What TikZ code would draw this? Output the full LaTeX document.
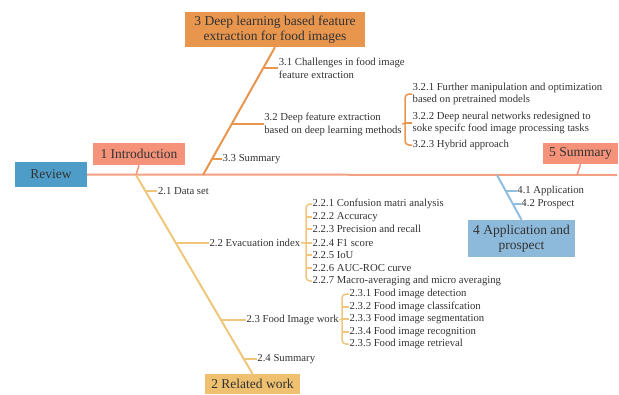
\documentclass[tikz,border=0pt]{standalone}
\usepackage{fontspec}
\setmainfont{Liberation Serif}
\usepackage{xcolor}
\usepackage{tikz}
\usetikzlibrary{calc}

\definecolor{spine}{HTML}{F4A082}
\definecolor{salmon}{HTML}{F4927A}
\definecolor{review}{HTML}{4E9DC8}
\definecolor{deep}{HTML}{E8954E}
\definecolor{related}{HTML}{EEC070}
\definecolor{relline}{HTML}{F0C67C}
\definecolor{app}{HTML}{8DB9DB}
\definecolor{appline}{HTML}{8FBEE0}
\definecolor{txt}{HTML}{333333}

\begin{document}
\begin{tikzpicture}[x=1pt,y=-1pt,
    big/.style={text=txt,font=\fontsize{13.5}{15}\selectfont,align=center,inner sep=0pt},
    sub/.style={text=txt,font=\fontsize{10.7}{12.5}\selectfont,align=left,anchor=west,inner sep=0.5pt},
    tick/.style={line width=1.5pt}]
    \useasboundingbox (0,0) rectangle (619,394);

    % Boites principales
    \node[big,fill=review,minimum width=72,minimum height=25] (rev) at (51,174.5) {Review};
    \node[big,fill=salmon,minimum width=92,minimum height=22] (intro) at (139,154) {1 Introduction};
    \node[big,fill=deep,minimum width=180,minimum height=35] (deepl) at (275,29.5) {3 Deep learning based feature\\extraction for food images};
    \node[big,fill=related,minimum width=95,minimum height=20] (relw) at (252.5,384) {2 Related work};
    \node[big,fill=salmon,minimum width=75,minimum height=21] (summ) at (580.5,153.5) {5 Summary};
    \node[big,fill=app,minimum width=107,minimum height=37] (appl) at (521.5,238.5) {4 Application and\\prospect};

    % Axe central
    \coordinate (s1) at (136,175);
    \coordinate (s2) at (136,175);
    \coordinate (s3) at (203,175);
    \coordinate (s4) at (497,175);
    \coordinate (s5) at (577,175);
    \coordinate (send) at (617,175);
    \draw[spine,line width=2pt] (rev.east) -- (send);
    \draw[salmon,line width=1.5pt] (intro.south) -- (s1);
    \draw[salmon,line width=1.5pt] (summ.south) -- (s5);

    % Branche 2
    \draw[relline,line width=2pt] (s2) -- (relw.north);
    \coordinate (p21) at ($(s2)!0.08!(relw.north)$);
    \coordinate (p22) at ($(s2)!0.342!(relw.north)$);
    \coordinate (p23) at ($(s2)!0.729!(relw.north)$);
    \coordinate (p24) at ($(s2)!0.925!(relw.north)$);
    \node[sub] (l21) at ($(p21)+(12,0)$) {2.1 Data set};
    \node[sub] (l22) at ($(p22)+(33,0)$) {2.2 Evacuation index};
    \node[sub] (l23) at ($(p23)+(25,0)$) {2.3 Food Image work};
    \node[sub] (l24) at ($(p24)+(13,0)$) {2.4 Summary};
    \draw[relline,tick] (p21) -- (l21.west);
    \draw[relline,tick] (p22) -- (l22.west);
    \draw[relline,tick] (p23) -- (l23.west);
    \draw[relline,tick] (p24) -- (l24.west);

    % Accolade 2.2
    \node[sub] (i221) at (312,204) {2.2.1 Confusion matri analysis};
    \node[sub] (i222) at (312,217) {2.2.2 Accuracy};
    \node[sub] (i223) at (312,229) {2.2.3 Precision and recall};
    \node[sub] (i224) at (312,243) {2.2.4 F1 score};
    \node[sub] (i225) at (312,255) {2.2.5 IoU};
    \node[sub] (i226) at (312,268) {2.2.6 AUC-ROC curve};
    \node[sub] (i227) at (312,281) {2.2.7 Macro-averaging and micro averaging};
    \coordinate (br22) at (306,243);
    \draw[relline,tick] (l22.east) -- (br22);
    \draw[relline,tick,rounded corners=4pt] (i221.west) -| (br22) |- (i227.west);
    \foreach \i in {2,...,6}
        \draw[relline,tick] (i22\i.west) -- (i22\i.west -| br22);

    % Accolade 2.3
    \node[sub] (i231) at (349,294) {2.3.1 Food image detection};
    \node[sub] (i232) at (349,307) {2.3.2 Food image classifcation};
    \node[sub] (i233) at (349,319) {2.3.3 Food image segmentation};
    \node[sub] (i234) at (349,332) {2.3.4 Food image recognition};
    \node[sub] (i235) at (349,344) {2.3.5 Food image retrieval};
    \coordinate (br23) at (342,319);
    \draw[relline,tick] (l23.east) -- (br23);
    \draw[relline,tick,rounded corners=4pt] (i231.west) -| (br23) |- (i235.west);
    \foreach \i in {2,...,4}
        \draw[relline,tick] (i23\i.west) -- (i23\i.west -| br23);

    % Branche 3
    \draw[deep,line width=2pt] (s3) -- (deepl.south);
    \coordinate (p31) at ($(s3)!0.836!(deepl.south)$);
    \coordinate (p32) at ($(s3)!0.398!(deepl.south)$);
    \coordinate (p33) at ($(s3)!0.125!(deepl.south)$);
    \node[sub] (l31) at ($(p31)+(15,0)$) {3.1 Challenges in food image\\feature extraction};
    \node[sub] (l32) at ($(p32)+(32,0)$) {3.2 Deep feature extraction\\based on deep learning methods};
    \node[sub] (l33) at ($(p33)+(10,0)$) {3.3 Summary};
    \draw[deep,tick] (p31) -- (l31.west);
    \draw[deep,tick] (p32) -- (l32.west);
    \draw[deep,tick] (p33) -- (l33.west);

    % Accolade 3.2
    \node[sub] (i321) at (412,94) {3.2.1 Further manipulation and optimization\\based on pretrained models};
    \node[sub] (i322) at (412,123) {3.2.2 Deep neural networks redesigned to\\soke specifc food image processing tasks};
    \node[sub] (i323) at (412,145) {3.2.3 Hybrid approach};
    \coordinate (br32) at (405,123);
    \draw[deep,tick] (l32.east) -- (br32);
    \draw[deep,tick,rounded corners=4pt] (i321.west) -| (br32) |- (i323.west);
    \draw[deep,tick] (i322.west) -- (br32);

    % Branche 4
    \draw[appline,line width=2pt] (s4) -- (appl.north);
    \coordinate (p41) at ($(s4)!0.356!(appl.north)$);
    \coordinate (p42) at ($(s4)!0.644!(appl.north)$);
    \node[sub] (l41) at ($(p41)+(11,0)$) {4.1 Application};
    \node[sub] (l42) at ($(p42)+(8,0)$) {4.2 Prospect};
    \draw[appline,tick] (p41) -- (l41.west);
    \draw[appline,tick] (p42) -- (l42.west);
\end{tikzpicture}
\end{document}
